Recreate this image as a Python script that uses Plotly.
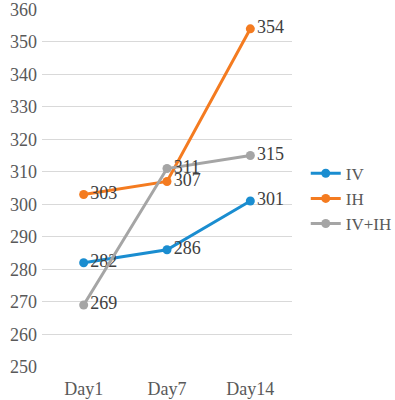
import plotly.graph_objects as go

days = ["Day1", "Day7", "Day14"]
iv = [282, 286, 301]
ih = [303, 307, 354]
iv_ih = [269, 311, 315]
series_names = ["IV", "IH", "IV+IH"]
colors = ["#1A8DD0", "#F47B20", "#A5A5A5"]
y_ticks = list(range(250, 361, 10))

FONT = "Liberation Serif, Times New Roman, serif"

fig = go.Figure()
for name, vals, col in zip(series_names, [iv, ih, iv_ih], colors):
    fig.add_trace(go.Scatter(
        x=days, y=vals, name=name, mode="lines+markers+text",
        line=dict(color=col, width=3), marker=dict(color=col, size=9),
        text=[str(v) for v in vals], textposition="middle right",
        textfont=dict(family=FONT, size=18, color="#404040"),
        cliponaxis=False, hoverinfo="skip",
    ))

fig.update_layout(
    width=395, height=400,
    margin=dict(l=42, r=103, t=9, b=33, autoexpand=False),
    paper_bgcolor="white", plot_bgcolor="white",
    font=dict(family=FONT, size=18, color="#595959"),
    showlegend=True,
    legend=dict(x=1.055, y=0.47, xanchor="left", yanchor="middle",
                font=dict(family=FONT, size=17, color="#595959"),
                bgcolor="rgba(0,0,0,0)", itemwidth=30),
    xaxis=dict(type="category", range=[-0.5, 2.5], showgrid=False, showline=False,
               ticks="", zeroline=False, automargin=False, ticklabelstandoff=9),
    yaxis=dict(range=[249.9, 360.1], tickvals=y_ticks, showgrid=True, gridcolor="#D9D9D9",
               gridwidth=1, zeroline=False, showline=False, ticks="",
               ticklabelstandoff=4, automargin=False, ticklabeloverflow="allow"),
)
fig.write_html("out.html", config={"displayModeBar": False},
               post_script="document.body.style.margin='0';")
